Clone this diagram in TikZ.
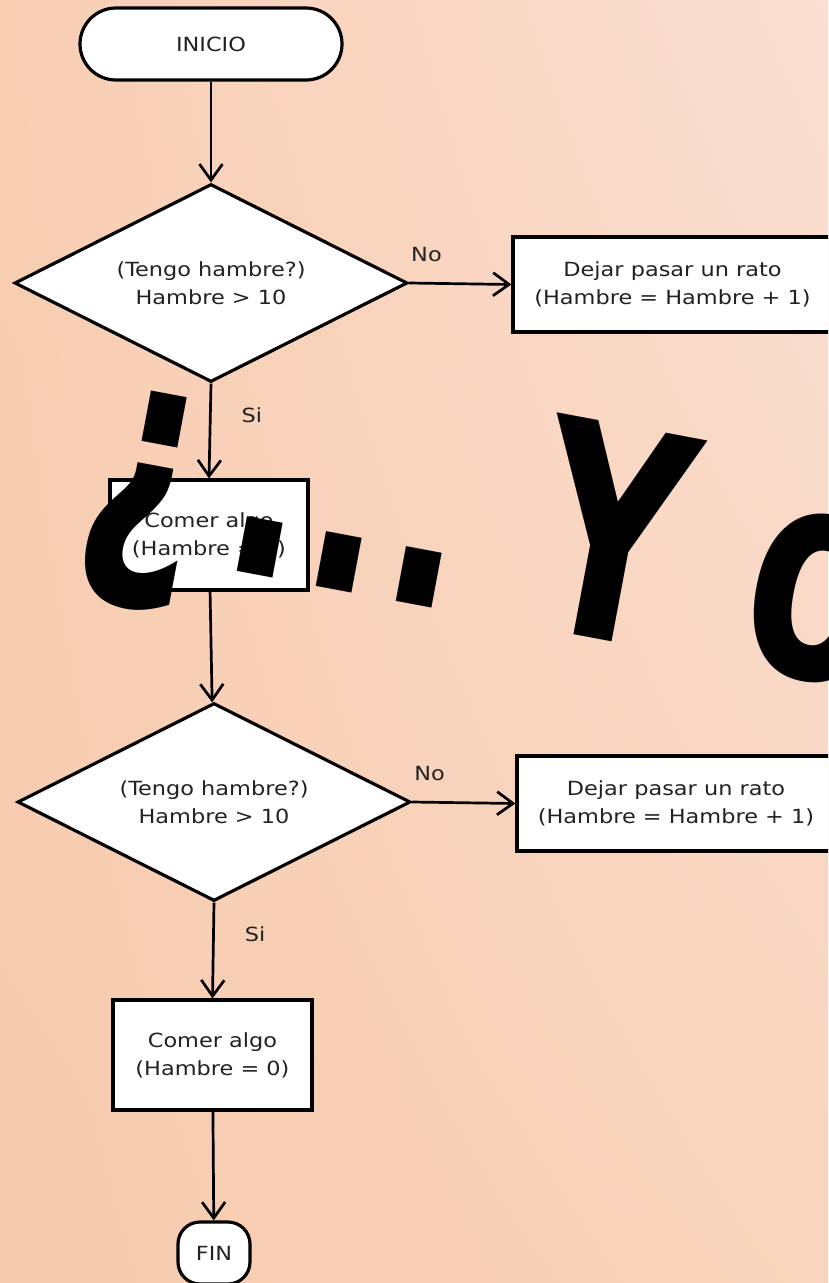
\documentclass[tikz,border=0pt]{standalone}
\usepackage{fontspec}
\setmainfont{DejaVu Sans}[FakeStretch=1.15]
\newfontfamily\lemafont{DejaVu Sans Bold}[FakeStretch=0.70]
\usetikzlibrary{shapes.geometric,arrows.meta,shadings}
\definecolor{fondoUL}{HTML}{F8CEB3}
\definecolor{fondoUR}{HTML}{FADFD2}
\definecolor{fondoLL}{HTML}{F6CBAE}
\definecolor{fondoLR}{HTML}{F8D4BC}
\definecolor{tinta}{HTML}{222222}
\tikzset{
  caja/.style={draw=black, line width=3.2pt, fill=white, text=tinta, align=center,
    inner sep=0pt, font=\fontsize{19.5}{28}\selectfont},
  bloque/.style={caja, rectangle},
  inicio/.style={caja, rectangle, rounded corners=36pt, minimum width=262pt, minimum height=72pt},
  final/.style={caja, rectangle, rounded corners=22pt, minimum width=72pt, minimum height=62pt},
  decision/.style={caja, diamond, aspect=2, minimum width=393pt, minimum height=198pt},
  flecha/.style={draw=black, line width=2.7pt, -{Straight Barb[length=16pt,width=23pt]}},
  etiqueta/.style={inner sep=0pt, text=tinta, font=\fontsize{19.5}{28}\selectfont},
  letra/.style={anchor=base, transform shape, inner sep=0pt, text=black,
    font=\lemafont\fontsize{295}{295}\selectfont},
}
\begin{document}
\begin{tikzpicture}[x=1pt,y=-1pt]
  % fondo
  \shade[upper left=fondoUL, upper right=fondoUR, lower left=fondoLL, lower right=fondoLR]
    (0,0) rectangle (828,1283);
  \useasboundingbox (0,0) rectangle (828,1283);
  \begin{scope}
  \clip (0,0) rectangle (828,1283);
  % diagrama de flujo
  \node[inicio] (inicio) at (211,44) {INICIO};
  \node[decision] (preg1) at (211,283) {(Tengo hambre?)\\Hambre > 10};
  \node[bloque, minimum width=319pt, minimum height=95pt] (espera1) at (672.5,284.5)
    {Dejar pasar un rato\\(Hambre = Hambre + 1)};
  \node[bloque, minimum width=198pt, minimum height=110pt] (comer1) at (209,535)
    {Comer algo\\(Hambre = 0)};
  \node[decision] (preg2) at (214,802) {(Tengo hambre?)\\Hambre > 10};
  \node[bloque, minimum width=318pt, minimum height=95pt] (espera2) at (676,803.5)
    {Dejar pasar un rato\\(Hambre = Hambre + 1)};
  \node[bloque, minimum width=199pt, minimum height=110pt] (comer2) at (212.5,1055)
    {Comer algo\\(Hambre = 0)};
  \node[final] (fin) at (214,1253) {FIN};
  % conectores
  \draw[flecha] (inicio) -- (preg1);
  \draw[flecha] (preg1.east) -- node[etiqueta, pos=0.17, above=20pt] (no1) {No} (espera1.west);
  \draw[flecha] (preg1.south) -- node[etiqueta, pos=0.33, right=30pt] (si1) {Si} (comer1.north);
  \draw[flecha] (comer1) -- (preg2);
  \draw[flecha] (preg2.east) -- node[etiqueta, pos=0.17, above=20pt] (no2) {No} (espera2.west);
  \draw[flecha] (preg2.south) -- node[etiqueta, pos=0.33, right=30pt] (si2) {Si} (comer2.north);
  \draw[flecha] (comer2) -- (fin);
  % texto grande encima, letra por letra sobre una linea base inclinada
  \begin{scope}[shift={(-95.3,509.2)}, rotate=-10.6]
    \foreach \g/\s [count=\i] in {¿/232, ./356, ./437, ./518, Y/700, o/914}
      \node[letra] (lema\i) at (\s,0) {\g};
  \end{scope}
  \end{scope}
\end{tikzpicture}
\end{document}
